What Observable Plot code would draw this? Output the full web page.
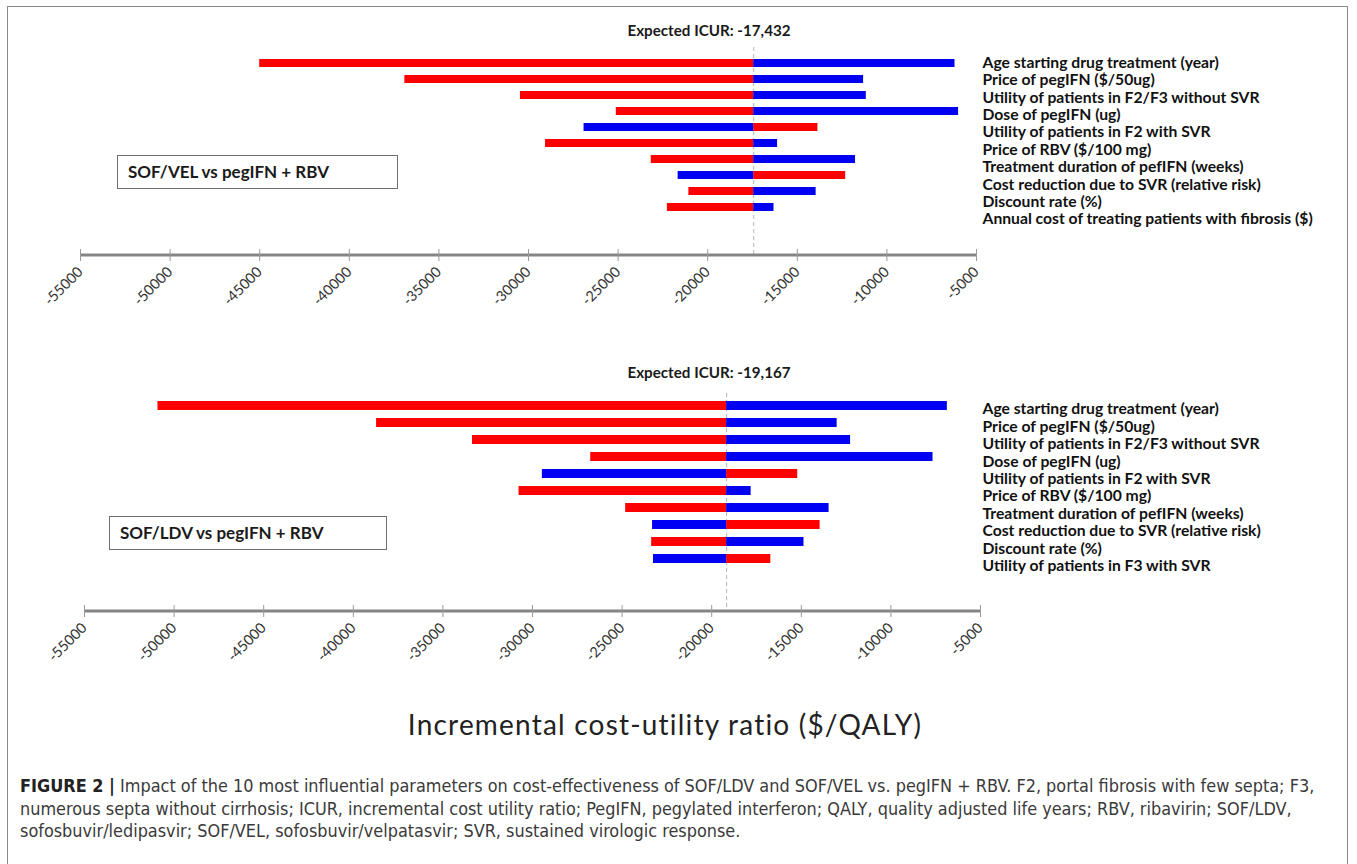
<!DOCTYPE html>
<html><head><meta charset="utf-8">
<script src="https://cdn.jsdelivr.net/npm/d3@7"></script>
<script src="https://cdn.jsdelivr.net/npm/@observablehq/plot@0.6"></script>
<style>
body{margin:0;background:#fff;}
#fig{position:relative;width:1357px;height:864px;overflow:hidden;font-family:Lato,"Open Sans",sans-serif;color:#1a1a1a;}
.border{position:absolute;left:7px;top:6px;width:1341px;height:900px;border:1px solid #8a8a8a;box-sizing:border-box;}
.panel{position:absolute;left:0;}
.title{position:absolute;transform:translateX(-50%);font-weight:700;font-size:15.2px;white-space:nowrap;line-height:18px;}
.box{position:absolute;border:1px solid #6f6f6f;box-sizing:border-box;font-weight:700;font-size:17px;line-height:32px;padding-left:10px;white-space:nowrap;}
.xtitle{position:absolute;left:665px;top:707px;transform:translateX(-50%);font-size:28px;letter-spacing:1.2px;white-space:nowrap;color:#222;}
.caption{position:absolute;left:20px;top:775px;width:1330px;font-family:"Liberation Sans Narrow","DejaVu Sans Condensed","Liberation Sans",sans-serif;font-size:17.9px;line-height:22.5px;color:#3a3a3a;white-space:nowrap;}
.caption b{color:#222;}
</style></head>
<body>
<div id="fig">
  <div class="border"></div>
  <div id="p1" class="panel" style="top:0px"></div>
  <div id="p2" class="panel" style="top:350px"></div>
  <div class="title" style="left:709px;top:21px">Expected ICUR: -17,432</div>
  <div class="title" style="left:709px;top:363px">Expected ICUR: -19,167</div>
  <div class="box" style="left:117px;top:155px;width:281px;height:34px">SOF/VEL vs pegIFN + RBV</div>
  <div class="box" style="left:109px;top:516px;width:278px;height:34px">SOF/LDV vs pegIFN + RBV</div>
  <div class="xtitle">Incremental cost-utility ratio ($/QALY)</div>
  <div class="caption"><b>FIGURE 2 |</b> Impact of the 10 most influential parameters on cost-effectiveness of SOF/LDV and SOF/VEL vs. pegIFN + RBV. F2, portal fibrosis with few septa; F3,<br>numerous septa without cirrhosis; ICUR, incremental cost utility ratio; PegIFN, pegylated interferon; QALY, quality adjusted life years; RBV, ribavirin; SOF/LDV,<br>sofosbuvir/ledipasvir; SOF/VEL, sofosbuvir/velpatasvir; SVR, sustained virologic response.</div>
</div>
<script>
// ---- data ----
const paramsVEL = [
  "Age starting drug treatment (year)",
  "Price of pegIFN ($/50ug)",
  "Utility of patients in F2/F3 without SVR",
  "Dose of pegIFN (ug)",
  "Utility of patients in F2 with SVR",
  "Price of RBV ($/100 mg)",
  "Treatment duration of pefIFN (weeks)",
  "Cost reduction due to SVR (relative risk)",
  "Discount rate (%)",
  "Annual cost of treating patients with fibrosis ($)"
];
const paramsLDV = [
  "Age starting drug treatment (year)",
  "Price of pegIFN ($/50ug)",
  "Utility of patients in F2/F3 without SVR",
  "Dose of pegIFN (ug)",
  "Utility of patients in F2 with SVR",
  "Price of RBV ($/100 mg)",
  "Treatment duration of pefIFN (weeks)",
  "Cost reduction due to SVR (relative risk)",
  "Discount rate (%)",
  "Utility of patients in F3 with SVR"
];
// ICUR at the two ends of each parameter range (red = first series, blue = second series)
const velRed  = [-45000, -36900, -30450, -25100, -13850, -29050, -23150, -12300, -21050, -22250];
const velBlue = [-6200, -11300, -11150, -6000, -26900, -16100, -11750, -21650, -13950, -16300];
const ldvRed  = [-50900, -38700, -33350, -26750, -15200, -30750, -24800, -13950, -23350, -16700];
const ldvBlue = [-6850, -13000, -12250, -7650, -29450, -17800, -13450, -23300, -14850, -23250];
const velExpected = -17432;
const ldvExpected = -19167;
const xTicks = [-55000, -50000, -45000, -40000, -35000, -30000, -25000, -20000, -15000, -10000, -5000];
const seriesNames = ["Red end", "Blue end"];

function tornado(params, red, blue, expected, L) {
  const rows = params.flatMap((p, i) => [
    {param: p, series: seriesNames[0], value: red[i]},
    {param: p, series: seriesNames[1], value: blue[i]}
  ]);
  const W = 1357, H = L.height, frameH = L.axisY - L.top;
  const labelFont = 15.7;
  return Plot.plot({
    width: W, height: H,
    marginLeft: L.left, marginRight: W - L.right, marginTop: L.top, marginBottom: H - L.axisY,
    style: {fontFamily: "Lato, sans-serif", background: "transparent", overflow: "visible"},
    x: {domain: [xTicks[0], xTicks[xTicks.length - 1]], axis: null, label: null},
    y: {type: "band", domain: params, range: L.yRange, paddingInner: 0.5, paddingOuter: 0.25, axis: null, label: null},
    color: {domain: seriesNames, range: ["#ff0000", "#0000f2"]},
    marks: [
      Plot.ruleX([expected], {stroke: "#b5b5b5", strokeDasharray: "4,3", strokeWidth: 1}),
      Plot.barX(rows, {x1: () => expected, x2: "value", y: "param", fill: "series"}),
      Plot.rect([[xTicks[0], xTicks[xTicks.length - 1]]], {x1: d => d[0], x2: d => d[1], fill: "#858585", insetTop: frameH - 1.5, insetBottom: -1.5}),
      Plot.tickX(xTicks, {x: d => d, stroke: "#9a9a9a", strokeWidth: 1, insetTop: frameH - 6, insetBottom: -6}),
      Plot.axisX({ticks: xTicks, tickSize: 0, tickPadding: 14, tickRotate: -45, tickFormat: d => String(d), fontSize: 14.5, color: "#333", label: null}),
      Plot.text([params.join("\n")], {
        y: () => params[0], text: d => d, frameAnchor: "right", textAnchor: "start", lineAnchor: "top",
        lineHeight: L.labelStep / labelFont, dx: L.labelDx, dy: L.labelDy,
        fontWeight: 700, fontSize: labelFont, fill: "#111"
      })
    ]
  });
}

document.getElementById("p1").appendChild(
  tornado(paramsVEL, velRed, velBlue, velExpected, {left: 80, right: 976, top: 47, axisY: 255, height: 320, yRange: [50.9, 218.4], labelStep: 17.4, labelDx: 6, labelDy: -8})
);
document.getElementById("p2").appendChild(
  tornado(paramsLDV, ldvRed, ldvBlue, ldvExpected, {left: 84, right: 980, top: 43, axisY: 261, height: 330, yRange: [45.7, 218.3], labelStep: 17.4, labelDx: 2, labelDy: -4})
);
</script>
</body></html>
